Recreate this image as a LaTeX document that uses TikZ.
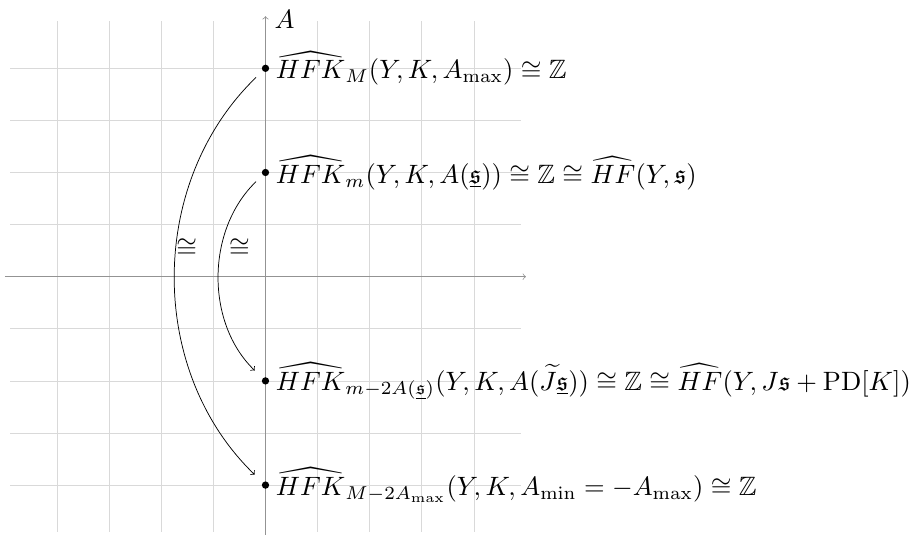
\documentclass[tikz,border=0pt]{standalone}
\usepackage{amsmath,amssymb,graphicx}
\newcommand{\bigmath}[1]{\scalebox{1.45}{$#1$}}
\begin{document}
\begin{tikzpicture}[x=1cm,y=1cm,
  dot/.style={circle,fill=black,inner sep=0pt,minimum size=4pt},
  lbl/.style={anchor=west,inner sep=3.33pt},
  axis/.style={draw=gray!85,->},
  iso/.style={->,black,shorten <=5pt,shorten >=6pt}]
\useasboundingbox (-5.096,-4.958) rectangle (12.486,5.311);
\draw[gray!30,step=1] (-4.9,-4.9) grid (4.9,4.9);
\coordinate (xl) at (-5,0);
\coordinate (xr) at (5,0);
\coordinate (yb) at (0,-5);
\coordinate (yt) at (0,5);
\draw[axis] (xl) -- (xr);
\draw[axis] (yb) -- (yt);
\node[anchor=west,xshift=1.5pt,yshift=-1.5pt] (alab) at (yt) {\bigmath{A}};
\node[dot] (p1) at (0,4) {};
\node[dot] (p2) at (0,2) {};
\node[dot] (p3) at (0,-2) {};
\node[dot] (p4) at (0,-4) {};
\node[lbl] (l1) at (p1.east) {\bigmath{\widehat{HFK}_M(Y,K,A_{\max})\cong\mathbb{Z}}};
\node[lbl] (l2) at (p2.east) {\bigmath{\widehat{HFK}_m(Y,K,A(\underline{\mathfrak{s}}))\cong\mathbb{Z}\cong\widehat{HF}(Y,\mathfrak{s})}};
\node[lbl] (l3) at (p3.east) {\bigmath{\widehat{HFK}_{m-2A(\underline{\mathfrak{s}})}(Y,K,A(\widetilde{J}\underline{\mathfrak{s}}))\cong\mathbb{Z}\cong\widehat{HF}(Y,J\mathfrak{s}+\mathrm{PD}[K])}};
\node[lbl] (l4) at (p4.east) {\bigmath{\widehat{HFK}_{M-2A_{\max}}(Y,K,A_{\min}=-A_{\max})\cong\mathbb{Z}}};
\draw[iso] (p1) to[bend right=46] (p4);
\draw[iso] (p2) to[bend right=46] (p3);
\node (c1) at (-1.51,0.55) {\bigmath{\cong}};
\node (c2) at (-0.5,0.55) {\bigmath{\cong}};
\end{tikzpicture}
\end{document}
